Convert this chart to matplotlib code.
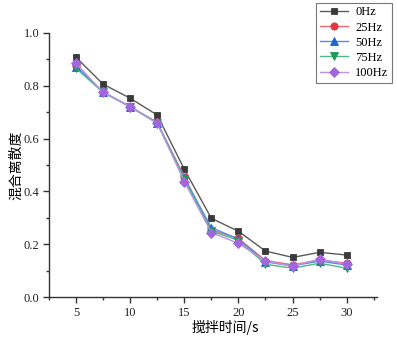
import matplotlib
matplotlib.use("Agg")
import matplotlib.pyplot as plt
from matplotlib.ticker import MultipleLocator

times = [5, 7.5, 10, 12.5, 15, 17.5, 20, 22.5, 25, 27.5, 30]
labels = ["0Hz", "25Hz", "50Hz", "75Hz", "100Hz"]
hz0 = [0.908, 0.806, 0.753, 0.689, 0.484, 0.298, 0.249, 0.174, 0.150, 0.169, 0.159]
hz25 = [0.875, 0.776, 0.721, 0.661, 0.456, 0.254, 0.222, 0.138, 0.122, 0.140, 0.128]
hz50 = [0.872, 0.776, 0.721, 0.660, 0.450, 0.263, 0.219, 0.133, 0.118, 0.136, 0.121]
hz75 = [0.866, 0.775, 0.720, 0.658, 0.446, 0.250, 0.214, 0.124, 0.109, 0.128, 0.109]
hz100 = [0.885, 0.775, 0.721, 0.660, 0.437, 0.244, 0.203, 0.136, 0.117, 0.143, 0.124]
series = [hz0, hz25, hz50, hz75, hz100]

marker_colors = ["#3a3a3a", "#e8343a", "#1a63d6", "#1d9a5a", "#a466dc"]
line_colors = ["#5a5a5a", "#ee6a6e", "#4f8ee6", "#52b787", "#bb92e6"]
markers = ["s", "o", "^", "v", "D"]
msizes = [5, 5.2, 5.2, 5.2, 4.6]

fig = plt.figure(figsize=(3.97, 3.38), dpi=100)
ax = fig.add_axes([0.1234, 0.1213, 0.8262, 0.7811])

for ys, lab, mc, lc, mk, ms in zip(series, labels, marker_colors, line_colors, markers, msizes):
    ax.plot(times, ys, color=lc, lw=1.0, marker=mk, markersize=ms,
            markerfacecolor=mc, markeredgecolor=mc, markeredgewidth=0.6, label=lab)

ax.set_xlim(2.5, 32.8)
ax.set_ylim(0, 1.0)
ax.xaxis.set_major_locator(MultipleLocator(5))
ax.xaxis.set_minor_locator(MultipleLocator(2.5))
ax.yaxis.set_major_locator(MultipleLocator(0.2))
ax.yaxis.set_minor_locator(MultipleLocator(0.1))
ax.yaxis.set_major_formatter(matplotlib.ticker.FormatStrFormatter("%.1f"))

for s in ["top", "right"]:
    ax.spines[s].set_visible(False)
for s in ["left", "bottom"]:
    ax.spines[s].set_linewidth(1.0)
    ax.spines[s].set_color("#333333")

ax.tick_params(which="major", direction="out", length=4, width=1.0, color="#333333",
               labelsize=9, pad=3)
ax.tick_params(which="minor", direction="out", length=2.5, width=1.0, color="#333333")
for t in ax.get_xticklabels() + ax.get_yticklabels():
    t.set_fontfamily(["Liberation Serif", "DejaVu Serif"])
    t.set_color("#222222")

ax.set_ylabel("混合离散度", fontsize=10, family=["Noto Sans CJK SC", "DejaVu Sans"])
ax.set_xlabel("搅拌时间/s", fontsize=10, family=["Noto Sans CJK SC", "DejaVu Sans"])
ax.xaxis.set_label_coords(0.537, -0.088)
ax.yaxis.set_label_coords(-0.078, 0.5)

leg = ax.legend(loc="upper right", bbox_to_anchor=(0.988, 0.992), bbox_transform=fig.transFigure,
                frameon=True, fancybox=False, edgecolor="#555555",
                prop={"family": ["Liberation Serif", "DejaVu Serif"], "size": 9},
                handlelength=2.2, handletextpad=0.6, labelspacing=0.25, borderpad=0.3,
                borderaxespad=0)
leg.get_frame().set_linewidth(0.8)

fig.savefig("out.png", dpi=100)
